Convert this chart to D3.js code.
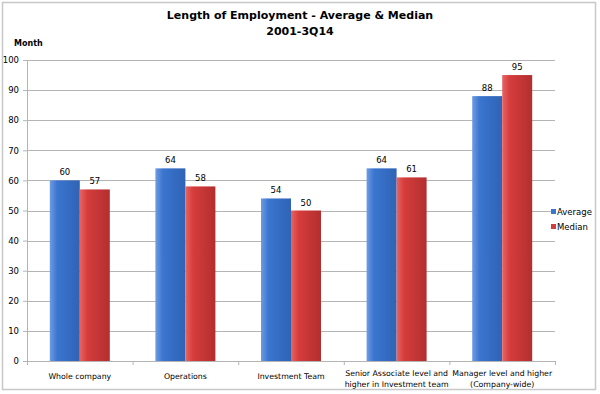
<!DOCTYPE html>
<html>
<head>
<meta charset="utf-8">
<script src="https://cdn.jsdelivr.net/npm/d3@7"></script>
<style>
  body { margin: 0; background: #fff; }
  text { font-family: "DejaVu Sans", Verdana, sans-serif; fill: #000; }
</style>
</head>
<body>
<div id="chart"></div>
<script>
const categories = [
  ['Whole company'],
  ['Operations'],
  ['Investment Team'],
  ['Senior Associate level and', 'higher in Investment team'],
  ['Manager level and higher', '(Company-wide)']
];
const averageValues = [60, 64, 54, 64, 88];
const medianValues = [57, 58, 50, 61, 95];
const seriesNames = ['Average', 'Median'];
const yTicks = [0, 10, 20, 30, 40, 50, 60, 70, 80, 90, 100];

const width = 600, height = 394;
const margin = { top: 60, right: 45, bottom: 33, left: 27 };

const svg = d3.select('#chart').append('svg')
  .attr('width', width)
  .attr('height', height);

// Gradients for bars
const defs = svg.append('defs');
const grads = [
  { id: 'gBlue', stops: ['#6f9be3', '#3a75cf', '#2f63b5'] },
  { id: 'gRed', stops: ['#e86464', '#d63c3c', '#b22f2f'] }
];
grads.forEach(g => {
  const lg = defs.append('linearGradient').attr('id', g.id)
    .attr('x1', '0%').attr('x2', '100%').attr('y1', '0%').attr('y2', '0%');
  lg.append('stop').attr('offset', '0%').attr('stop-color', g.stops[0]);
  lg.append('stop').attr('offset', '25%').attr('stop-color', g.stops[1]);
  lg.append('stop').attr('offset', '100%').attr('stop-color', g.stops[2]);
});
const fills = ['url(#gBlue)', 'url(#gRed)'];
const solid = ['#3a75cf', '#d63c3c'];

// Outer border
svg.append('rect')
  .attr('x', 2.5).attr('y', 2.5)
  .attr('width', 593).attr('height', 387)
  .attr('fill', 'none').attr('stroke', '#c8c8c8').attr('stroke-width', 1.5);

const innerW = width - margin.left - margin.right;
const innerH = height - margin.top - margin.bottom;
const g = svg.append('g').attr('transform', `translate(${margin.left},${margin.top})`);

const x = d3.scaleBand().domain(d3.range(categories.length)).range([0, innerW]).paddingInner(0).paddingOuter(0);
const xSub = d3.scaleBand().domain([0, 1]).range([0, x.bandwidth()]).paddingInner(0).paddingOuter(0.76);
const y = d3.scaleLinear().domain([0, 100]).range([innerH, 0]);

// Gridlines
g.selectAll('.grid').data(yTicks).join('line')
  .attr('x1', 0).attr('x2', innerW)
  .attr('y1', d => Math.round(y(d)) + 0.5).attr('y2', d => Math.round(y(d)) + 0.5)
  .attr('stroke', '#b4b4b4').attr('stroke-width', 1);

// Y axis
const yAxis = d3.axisLeft(y).tickValues(yTicks).tickSize(4).tickPadding(4);
const yG = g.append('g').call(yAxis);
yG.select('.domain').attr('stroke', '#b4b4b4');
yG.selectAll('.tick line').attr('stroke', '#b4b4b4');
yG.selectAll('.tick text').style('font-size', '8.5px').attr('fill', '#000');

// X axis ticks
const xAxis = d3.axisBottom(x).tickSize(0).tickFormat('');
const xG = g.append('g').attr('transform', `translate(0,${innerH})`).call(xAxis);
xG.select('.domain').attr('stroke', '#b4b4b4');
g.selectAll('.xtick').data(d3.range(categories.length + 1)).join('line')
  .attr('x1', d => d * x.step() + 0.5).attr('x2', d => d * x.step() + 0.5)
  .attr('y1', innerH).attr('y2', innerH + 4)
  .attr('stroke', '#b4b4b4');

// Category labels
const catG = g.selectAll('.cat').data(categories).join('text')
  .attr('x', (d, i) => x(i) + x.bandwidth() / 2)
  .attr('text-anchor', 'middle')
  .style('font-size', '7.8px');
catG.each(function (d) {
  const t = d3.select(this);
  const y0 = d.length === 1 ? innerH + 18 : innerH + 15;
  d.forEach((line, k) => {
    t.append('tspan').attr('x', t.attr('x')).attr('y', y0 + k * 11).text(line);
  });
});

// Bars
const series = [averageValues, medianValues];
series.forEach((vals, s) => {
  const bars = g.selectAll('.bar' + s).data(vals).join('g');
  bars.append('rect')
    .attr('x', (d, i) => x(i) + xSub(s))
    .attr('y', d => y(d))
    .attr('width', xSub.bandwidth())
    .attr('height', d => innerH - y(d))
    .attr('fill', fills[s]);
  bars.append('text')
    .attr('x', (d, i) => x(i) + xSub(s) + xSub.bandwidth() / 2)
    .attr('y', d => y(d) - 5)
    .attr('text-anchor', 'middle')
    .style('font-size', '8.5px')
    .text(d => d);
});

// Titles
svg.append('text').attr('x', 300).attr('y', 19).attr('text-anchor', 'middle')
  .style('font-size', '11px').style('font-weight', 'bold')
  .text('Length of Employment - Average & Median');
svg.append('text').attr('x', 300).attr('y', 35).attr('text-anchor', 'middle')
  .style('font-size', '11px').style('font-weight', 'bold')
  .text('2001-3Q14');
svg.append('text').attr('x', 14).attr('y', 46)
  .style('font-size', '8px').style('font-weight', 'bold')
  .text('Month');

// Legend
const legend = svg.append('g').attr('transform', 'translate(551,209)');
seriesNames.forEach((name, i) => {
  legend.append('rect').attr('x', 0).attr('y', i * 15).attr('width', 5).attr('height', 5)
    .attr('fill', solid[i]);
  legend.append('text').attr('x', 6).attr('y', i * 15 + 6)
    .style('font-size', '8.5px').text(name);
});
</script>
</body>
</html>
